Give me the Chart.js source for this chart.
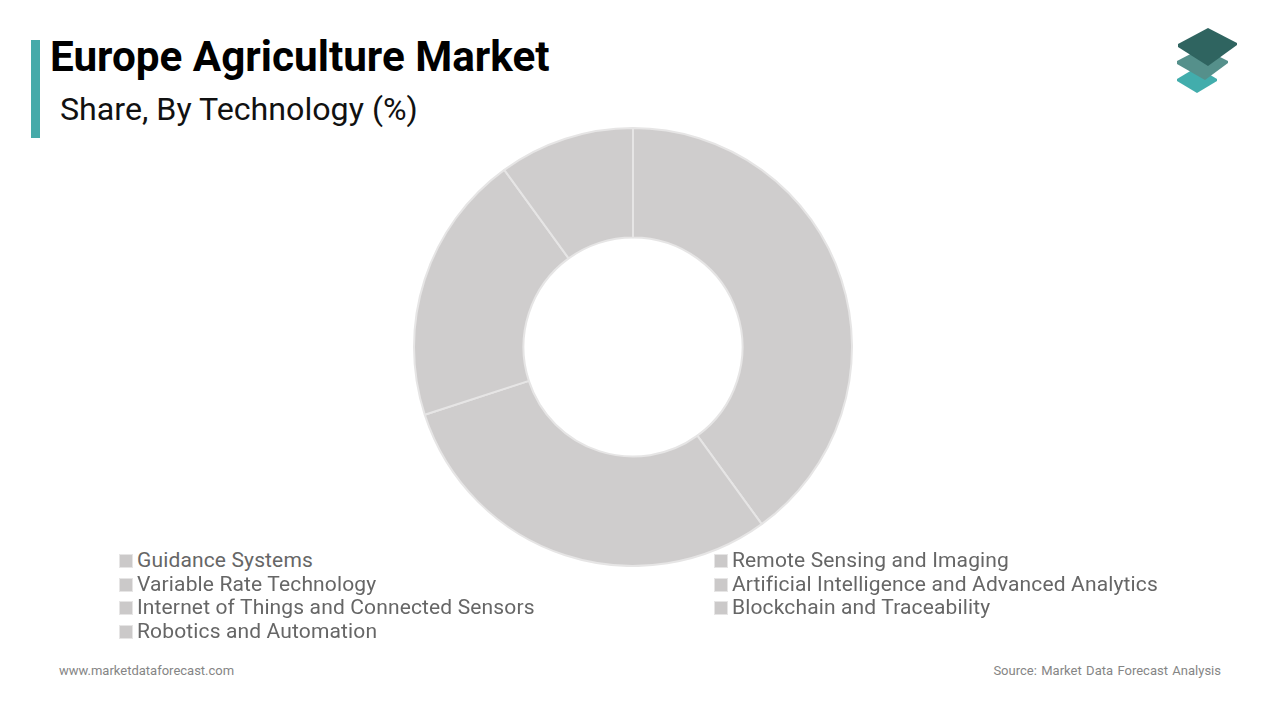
<!DOCTYPE html>
<html>
<head>
<meta charset="utf-8">
<script src="https://cdn.jsdelivr.net/npm/chart.js@4/dist/chart.umd.min.js"></script>
<style>
html,body{margin:0;padding:0;background:#fff;width:1280px;height:720px;overflow:hidden;font-family:Roboto,sans-serif}
.abs{position:absolute;white-space:nowrap}
#bar{left:31px;top:40px;width:9px;height:98px;background:#46aaa9}
#title{left:50px;top:31px;font-size:42.25px;font-weight:700;color:#000;line-height:52px}
#sub{left:60px;top:90px;font-size:32.2px;font-weight:400;color:#111;line-height:38px}
#wrap{left:413px;top:127px;width:440px;height:440px}
.leg{font-size:21px;color:#666;line-height:24px;letter-spacing:.14px}
.sw{position:absolute;width:14px;height:14px;background:#cbc9c9;border:1px solid #e6e5e5;box-sizing:border-box}
.foot{font-size:13px;color:#858585;line-height:16px;top:663px}
#src{word-spacing:1.2px}
</style>
</head>
<body>
<div class="abs" id="bar"></div>
<div class="abs" id="title">Europe Agriculture Market</div>
<div class="abs" id="sub">Share, By Technology (%)</div>
<svg class="abs" style="left:1170px;top:20px" width="75" height="80" viewBox="0 0 75 80">
  <polygon points="7,59 27,47 47,59 47,61 27,73 7,61" fill="#42adac"/>
  <polygon points="7,41 32,28 58,41 58,43 35,60 7,44" fill="#55908b"/>
  <polygon points="8,24 38,8 67,23 67,25 38,46 8,27" fill="#2f6460"/>
</svg>
<div class="abs" id="wrap"><canvas id="c" width="440" height="440"></canvas></div>
<div id="legend"></div>
<div class="abs foot" style="left:59px">www.marketdataforecast.com</div>
<div class="abs foot" id="src" style="right:59px">Source: Market Data Forecast Analysis</div>
<script>
const categories = ["Guidance Systems","Variable Rate Technology","Internet of Things and Connected Sensors","Robotics and Automation","Remote Sensing and Imaging","Artificial Intelligence and Advanced Analytics","Blockchain and Traceability"];
const shareValues = [40,30,20,10,0,0,0];
const sliceColor = "#cfcdcd";
const sliceBorder = "#e6e5e5";

new Chart(document.getElementById("c"),{
  type:"doughnut",
  data:{labels:categories,datasets:[{data:shareValues,backgroundColor:sliceColor,borderColor:sliceBorder,borderWidth:2}]},
  options:{responsive:false,animation:false,cutout:"50%",layout:{padding:0},
    plugins:{legend:{display:false},tooltip:{enabled:false},title:{display:false}}}
});

const legend=document.getElementById("legend");
categories.forEach((name,i)=>{
  const col=i<4?0:1, row=i<4?i:i-4;
  const x=col?732:137, y=548+row*23.7;
  const t=document.createElement("div");
  t.className="abs leg";t.textContent=name;t.style.left=x+"px";t.style.top=y+"px";
  legend.appendChild(t);
  const s=document.createElement("div");
  s.className="sw";s.style.left=(x-18)+"px";s.style.top=(y+6)+"px";
  legend.appendChild(s);
});
</script>
</body>
</html>
